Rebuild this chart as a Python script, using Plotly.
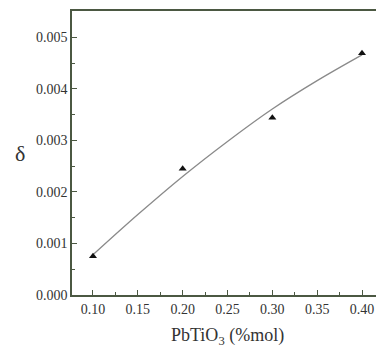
import plotly.graph_objects as go

# measured points
x_pts = [0.10, 0.20, 0.30, 0.40]
delta_pts = [0.00075, 0.00245, 0.00344, 0.00469]

# fitted curve
x_fit = [0.10, 0.15, 0.20, 0.25, 0.30, 0.35, 0.40]
delta_fit = [0.00078, 0.00156, 0.00230, 0.00298, 0.00361, 0.00416, 0.00466]

x_ticks = [0.10, 0.15, 0.20, 0.25, 0.30, 0.35, 0.40]
x_tick_labels = ["0.10", "0.15", "0.20", "0.25", "0.30", "0.35", "0.40"]
y_ticks = [0.000, 0.001, 0.002, 0.003, 0.004, 0.005]
y_tick_labels = ["0.000", "0.001", "0.002", "0.003", "0.004", "0.005"]

axis_col = "#4b5842"
font_fam = "Liberation Serif, Times New Roman, serif"

fig = go.Figure()
fig.add_trace(go.Scatter(x=x_fit, y=delta_fit, mode="lines",
                         line=dict(color="#8a8a8a", width=1.3, shape="spline"),
                         hoverinfo="skip", showlegend=False))
fig.add_trace(go.Scatter(x=x_pts, y=delta_pts, mode="markers",
                         marker=dict(symbol="triangle-up", size=7, color="#111111"),
                         showlegend=False))

fig.update_layout(
    width=376, height=347,
    margin=dict(l=72, r=0, t=11, b=52),
    paper_bgcolor="white", plot_bgcolor="white",
    font=dict(family=font_fam, color="#333333", size=14),
    xaxis=dict(range=[0.0766, 0.4156], tickvals=x_ticks, ticktext=x_tick_labels,
               ticks="inside", ticklen=5, tickwidth=1, tickcolor=axis_col,
               showline=True, linecolor=axis_col, linewidth=1.5, mirror=True,
               showgrid=False, zeroline=False,
               minor=dict(dtick=0.025, tick0=0.1, ticks="inside", ticklen=3, tickcolor=axis_col),
               tickfont=dict(size=14, family=font_fam, color="#333333")),
    yaxis=dict(range=[0, 0.00551], tickvals=y_ticks, ticktext=y_tick_labels,
               ticks="inside", ticklen=5, tickwidth=1, tickcolor=axis_col,
               showline=True, linecolor=axis_col, linewidth=1.5, mirror=False,
               showgrid=False, zeroline=False,
               minor=dict(dtick=0.0005, tick0=0, ticks="inside", ticklen=3, tickcolor=axis_col),
               tickfont=dict(size=14, family=font_fam, color="#333333")),
    annotations=[
        dict(text="PbTiO<sub>3</sub> (%mol)", xref="paper", yref="paper",
             x=0.51, y=-0.1, xanchor="center", yanchor="top", showarrow=False,
             font=dict(size=18, family=font_fam, color="#333333")),
        dict(text="δ", xref="paper", yref="paper", x=-0.17, y=0.5,
             xanchor="center", yanchor="middle", showarrow=False,
             font=dict(size=22, family=font_fam, color="#333333")),
    ],
)

fig.write_html("out.html", config={"displayModeBar": False},
               post_script="document.body.style.margin='0';document.body.style.overflow='hidden';")
